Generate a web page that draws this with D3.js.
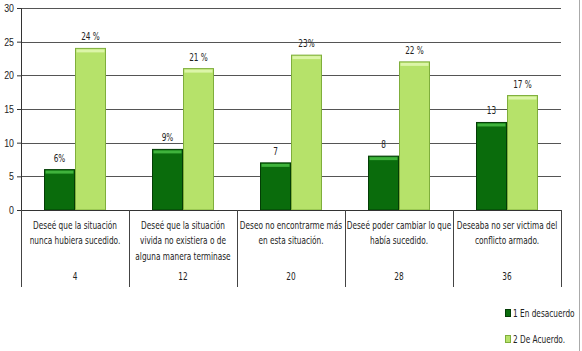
<!DOCTYPE html>
<html>
<head>
<meta charset="utf-8">
<script src="https://cdn.jsdelivr.net/npm/d3@7"></script>
<style>
  body { margin: 0; background: #fff; }
  svg { display: block; font-family: "DejaVu Sans", "Liberation Sans", sans-serif; }
</style>
</head>
<body>
<svg width="582" height="351"></svg>
<script>
const categories = [
  ["Deseé que la situación", "nunca hubiera sucedido."],
  ["Deseé que la situación", "vivida no existiera o de", "alguna manera terminase"],
  ["Deseo no encontrarme más", "en esta situación."],
  ["Deseé poder cambiar lo que", "había sucedido."],
  ["Deseaba no ser victima del", "conflicto armado."]
];
const codes = ["4", "12", "20", "28", "36"];
const series = ["1 En desacuerdo", "2 De Acuerdo."];
const desacuerdo = [6, 9, 7, 8, 13];
const deAcuerdo = [24, 21, 23, 22, 17];
const labelsDesacuerdo = ["6%", "9%", "7", "8", "13"];
const labelsDeAcuerdo = ["24 %", "21 %", "23%", "22 %", "17 %"];
const yTicks = [0, 5, 10, 15, 20, 25, 30];

const svg = d3.select("svg"),
    margin = {top: 8, right: 21, bottom: 141, left: 21},
    width = +svg.attr("width") - margin.left - margin.right,
    height = +svg.attr("height") - margin.top - margin.bottom;

const chart = svg.append("g").attr("transform", `translate(${margin.left},${margin.top})`);

const data = codes.map((c, i) => ({
  code: c,
  lines: categories[i],
  values: [
    {key: series[0], value: desacuerdo[i], label: labelsDesacuerdo[i]},
    {key: series[1], value: deAcuerdo[i], label: labelsDeAcuerdo[i]}
  ]
}));

const x0 = d3.scaleBand().domain(codes).range([0, width]).padding(0);
const x1 = d3.scaleBand().domain(series).range([23, x0.bandwidth() - 23]).padding(0);
const y = d3.scaleLinear().domain([0, 30]).range([height, 0]);

const fill = d3.scaleOrdinal().domain(series).range(["#0a6c0c", "#b6e26a"]);
const stroke = d3.scaleOrdinal().domain(series).range(["#033d05", "#7fae3c"]);
const cap = d3.scaleOrdinal().domain(series).range(["#3fb33c", "#dcf5a8"]);

// right frame line
svg.append("line")
    .attr("x1", 579.5).attr("x2", 579.5)
    .attr("y1", 0).attr("y2", 351)
    .attr("stroke", "#aaa");

// gridlines
chart.append("g")
    .selectAll("line")
    .data(yTicks.filter(d => d > 0))
    .join("line")
    .attr("x1", 0).attr("x2", width)
    .attr("y1", d => Math.round(y(d)) + 0.5).attr("y2", d => Math.round(y(d)) + 0.5)
    .attr("stroke", "#555");

// y axis
const yAxis = chart.append("g")
    .call(d3.axisLeft(y).tickValues(yTicks).tickSize(4).tickPadding(3));
yAxis.select(".domain").attr("stroke", "#333");
yAxis.selectAll(".tick line").attr("stroke", "#333");
yAxis.selectAll("text").style("font-size", "11px").attr("fill", "#222").attr("data-k", 0.8);

// bars
const groups = chart.append("g")
    .selectAll("g")
    .data(data)
    .join("g")
    .attr("transform", d => `translate(${x0(d.code)},0)`);

const bars = groups.selectAll("g")
    .data(d => d.values)
    .join("g");

bars.append("rect")
    .attr("x", d => x1(d.key) + 0.5)
    .attr("y", d => y(d.value))
    .attr("width", x1.bandwidth() - 1)
    .attr("height", d => height - y(d.value))
    .attr("fill", d => fill(d.key))
    .attr("stroke", d => stroke(d.key));

bars.append("rect")
    .attr("x", d => x1(d.key) + 1.5)
    .attr("y", d => y(d.value) + 1)
    .attr("width", x1.bandwidth() - 3)
    .attr("height", 3)
    .attr("fill", d => cap(d.key));

bars.append("text")
    .attr("x", d => x1(d.key) + x1.bandwidth() / 2)
    .attr("y", d => y(d.value) - 8)
    .attr("text-anchor", "middle")
    .style("font-size", "11px")
    .attr("fill", "#222")
    .text(d => d.label);

// x axis baseline
chart.append("line")
    .attr("x1", 0).attr("x2", width)
    .attr("y1", height + 0.5).attr("y2", height + 0.5)
    .attr("stroke", "#333");

// table under the chart
chart.append("g")
    .selectAll("line")
    .data(codes.map(c => x0(c)).concat([width]))
    .join("line")
    .attr("x1", d => Math.round(d) + 0.5).attr("x2", d => Math.round(d) + 0.5)
    .attr("y1", height).attr("y2", height + 77)
    .attr("stroke", "#444");

const cells = chart.append("g")
    .selectAll("g")
    .data(data)
    .join("g")
    .attr("transform", d => `translate(${x0(d.code) + x0.bandwidth() / 2},${height})`);

cells.selectAll("text.cat")
    .data(d => d.lines)
    .join("text")
    .attr("class", "cat")
    .attr("y", (d, i) => 19 + i * 15.5)
    .attr("text-anchor", "middle")
    .style("font-size", "11px")
    .attr("fill", "#222")
    .text(d => d);

cells.append("text")
    .attr("y", 70)
    .attr("text-anchor", "middle")
    .style("font-size", "11px")
    .attr("fill", "#222")
    .text(d => d.code);

// Legend
const legend = svg.append("g")
    .attr("transform", "translate(505,309)")
    .selectAll("g")
    .data(series)
    .join("g")
    .attr("transform", (d, i) => `translate(0,${i * 26})`);

legend.append("rect")
    .attr("x", 0.5).attr("y", 0.5)
    .attr("width", 5).attr("height", 7)
    .attr("fill", d => fill(d))
    .attr("stroke", d => stroke(d));

legend.append("text")
    .attr("x", 8)
    .attr("y", 8)
    .text(d => d)
    .style("font-size", "11px")
    .attr("fill", "#222");

// narrow the glyphs horizontally, the original uses a condensed face
svg.selectAll("text").each(function() {
  const k = +this.getAttribute("data-k") || 0.67;
  const x = +this.getAttribute("x") || 0;
  this.setAttribute("x", x / k);
  this.setAttribute("transform", `scale(${k},1)`);
});
</script>
</body>
</html>
